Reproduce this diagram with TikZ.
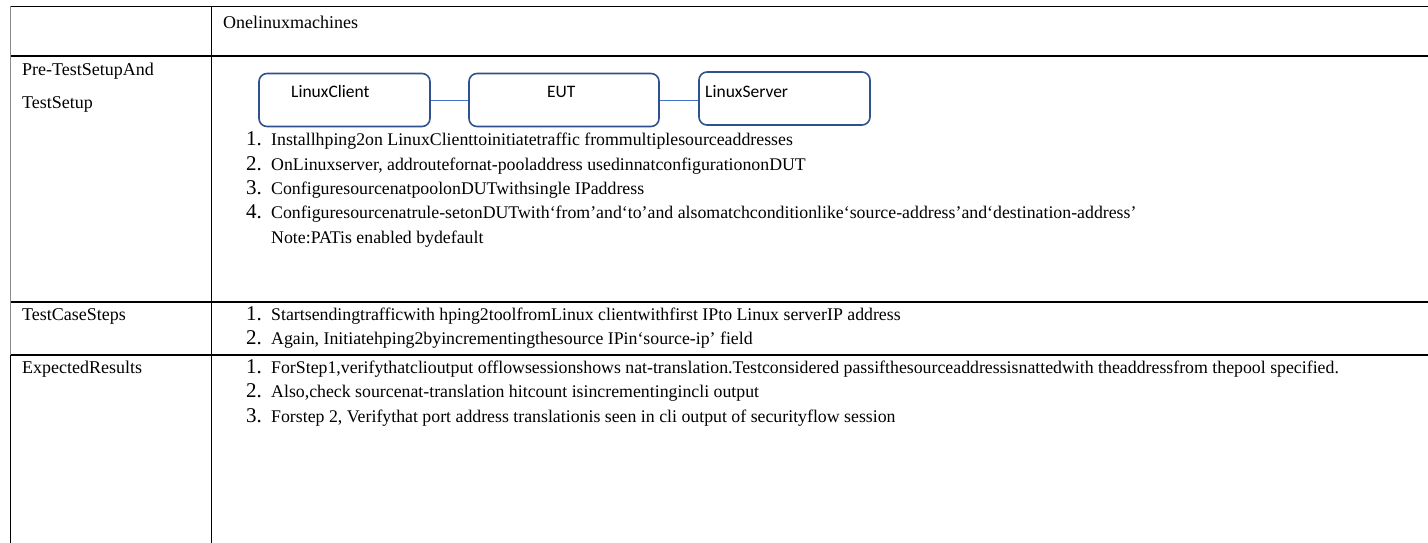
\documentclass[tikz,border=0pt]{standalone}
\usepackage{fontspec}
\setmainfont{Liberation Serif}
\newfontfamily\boxfont{Carlito}
\definecolor{boxline}{RGB}{47,82,143}
\definecolor{linkline}{RGB}{68,114,196}
\begin{document}
\begin{tikzpicture}[x=1pt,y=-1pt,
  rule/.style={line width=1.3pt,black},
  lrule/.style={line width=1.3pt,black!45},
  label/.style={anchor=base west,inner sep=0pt,font=\fontsize{18}{20}\selectfont},
  itemnum/.style={anchor=base west,inner sep=0pt,font=\fontsize{21}{23}\selectfont},
  itemtxt/.style={anchor=base west,inner sep=0pt,font=\fontsize{17.8}{20}\selectfont},
  devbox/.style={draw=boxline,line width=1.6pt,rounded corners=8pt,fill=white,
    minimum height=53pt},
  devtxt/.style={anchor=base west,inner sep=0pt,font=\boxfont\fontsize{17.5}{19}\selectfont},
  link/.style={draw=linkline,line width=0.9pt}]
\useasboundingbox (0,0) rectangle (1428,543);
\fill[white] (0,0) rectangle (1428,543);

% table grid
\draw[rule] (10,6.5) -- (1428,6.5);
\draw[rule] (10,56) -- (1428,56);
\draw[rule] (10,302) -- (1428,302);
\draw[rule] (10,355) -- (1428,355);
\draw[lrule] (10.5,6.5) -- (10.5,355);
\draw[rule] (10.5,355) -- (10.5,543);
\draw[rule] (211.5,6.5) -- (211.5,543);

% header row
\node[label] (hdr) at (223,29) {Onelinuxmachines};

% first column
\node[label] (pre1) at (22,76) {Pre-TestSetupAnd};
\node[label] (pre2) at (22,109) {TestSetup};
\node[label] (tcs) at (22,320) {TestCaseSteps};
\node[label] (exp) at (22,373) {ExpectedResults};

% topology
\node[devbox,minimum width=171pt] (cli) at (344.5,100) {};
\node[devbox,minimum width=190pt] (eut) at (564,100) {};
\node[devbox,minimum width=171pt] (srv) at (784.5,98.5) {};
\draw[link] (cli.east) -- (eut.west);
\draw[link] (eut.east) -- (eut.east -| srv.west);
\node[devtxt] (clit) at (291,97) {LinuxClient};
\node[devtxt] (eutt) at (547,97) {EUT};
\node[devtxt] (srvt) at (705,97) {LinuxServer};

% setup steps
\node[itemnum] (n1) at (246,146) {1.};
\node[itemtxt] (s1) at (271,146) {Installhping2on LinuxClienttoinitiatetraffic frommultiplesourceaddresses};
\node[itemnum] (n2) at (246,170) {2.};
\node[itemtxt] (s2) at (271,170) {OnLinuxserver, addroutefornat-pooladdress usedinnatconfigurationonDUT};
\node[itemnum] (n3) at (246,194) {3.};
\node[itemtxt] (s3) at (271,194) {ConfiguresourcenatpoolonDUTwithsingle IPaddress};
\node[itemnum] (n4) at (246,218) {4.};
\node[itemtxt] (s4) at (271,218) {Configuresourcenatrule-setonDUTwith‘from’and‘to’and alsomatchconditionlike‘source-address’and‘destination-address’};
\node[itemtxt] (note) at (271,243) {Note:PATis enabled bydefault};

% test case steps
\node[itemnum] (t1) at (246,320) {1.};
\node[itemtxt] (tx1) at (271,320) {Startsendingtrafficwith hping2toolfromLinux clientwithfirst IPto Linux serverIP address};
\node[itemnum] (t2) at (246,344) {2.};
\node[itemtxt] (tx2) at (271,344) {Again, Initiatehping2byincrementingthesource IPin‘source-ip’ field};

% expected results
\node[itemnum] (e1) at (246,373) {1.};
\node[itemtxt] (ex1) at (271,373) {ForStep1,verifythatclioutput offlowsessionshows nat-translation.Testconsidered passifthesourceaddressisnattedwith theaddressfrom thepool specified.};
\node[itemnum] (e2) at (246,397) {2.};
\node[itemtxt] (ex2) at (271,397) {Also,check sourcenat-translation hitcount isincrementingincli output};
\node[itemnum] (e3) at (246,422) {3.};
\node[itemtxt] (ex3) at (271,422) {Forstep 2, Verifythat port address translationis seen in cli output of securityflow session};
\end{tikzpicture}
\end{document}
